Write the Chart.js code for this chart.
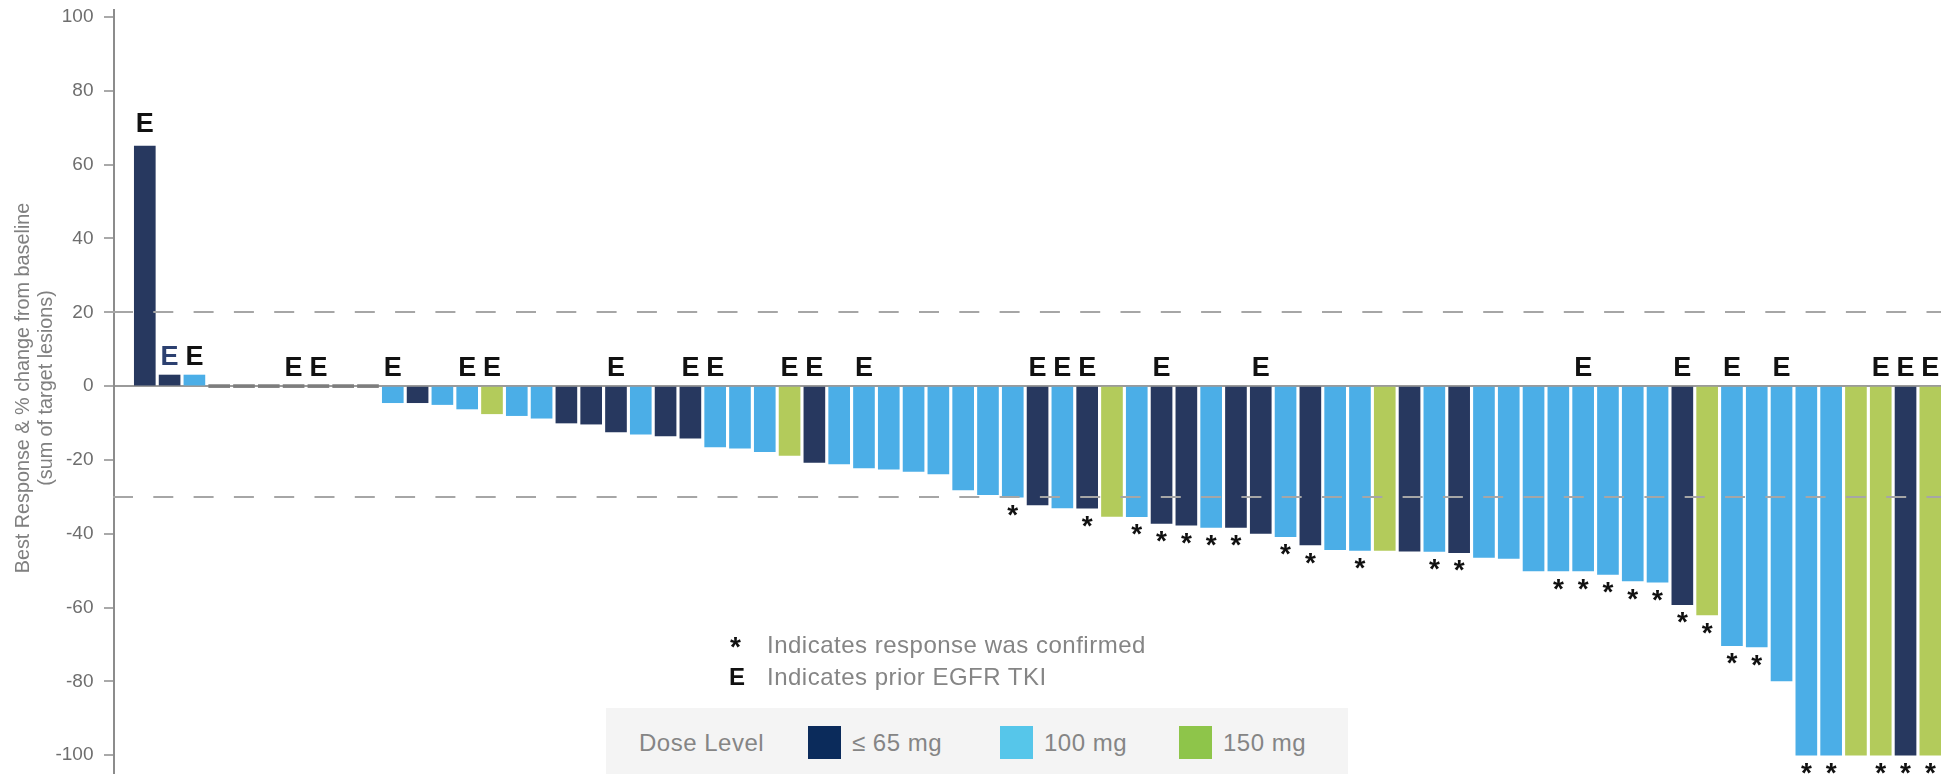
<!DOCTYPE html>
<html>
<head>
<meta charset="utf-8">
<script src="https://cdn.jsdelivr.net/npm/chart.js@4.4.1/dist/chart.umd.min.js"></script>
<style>
  html, body { margin: 0; padding: 0; background: #fff; overflow: hidden; }
  #wrap { position: relative; width: 1941px; height: 774px; }
  #wrap canvas { position: absolute; left: 0; top: 0; }
  .txt { position: absolute; white-space: nowrap; line-height: 1; font-family: "Liberation Sans", Arial, Helvetica, sans-serif; }
  .note { font-size: 24px; color: #858585; letter-spacing: 0.5px; }
  .mark { font-weight: bold; color: #111; }
  #legend { position: absolute; left: 606px; top: 708px; width: 742px; height: 70px; background: #f4f4f4; }
  .swatch { position: absolute; width: 33px; height: 33px; }
</style>
</head>
<body>
<div id="wrap">
  <canvas id="waterfall" width="1941" height="774"></canvas>

  <div class="txt mark" style="left:730px; top:633px; font-size:28px;">*</div>
  <div class="txt note" style="left:767px; top:633px;">Indicates response was confirmed</div>
  <div class="txt mark" style="left:729px; top:665px; font-size:24px;">E</div>
  <div class="txt note" style="left:767px; top:665px;">Indicates prior EGFR TKI</div>

  <div id="legend"></div>
</div>

<script>
// Best % change from baseline in the sum of target lesions, one value per patient
const responses = [
  65, 3, 3, 0, 0, 0, 0, 0, 0, 0,
  -4.5, -4.5, -5, -6.2, -7.5, -8, -8.7, -10, -10.3, -12.4,
  -13, -13.5, -14.1, -16.5, -16.8, -17.8, -18.8, -20.7, -21.1, -22.2,
  -22.5, -23.1, -23.8, -28.1, -29.4, -30.1, -32.2, -33, -33.1, -35.3,
  -35.4, -37.2, -37.7, -38.3, -38.3, -39.9, -40.8, -43, -44.3, -44.5,
  -44.5, -44.7, -44.8, -45.1, -46.4, -46.7, -50.1, -50.1, -50.1, -51,
  -52.8, -53.1, -59.2, -62, -70.3, -70.7, -79.9, -100, -100, -100,
  -100, -100, -100
];

// Dose level of each patient (null: no measurable change, drawn as a grey stub)
const doses = [
  '≤65', '≤65', '100', null, null, null, null, null, null, null,
  '100', '≤65', '100', '100', '150', '100', '100', '≤65', '≤65', '≤65',
  '100', '≤65', '≤65', '100', '100', '100', '150', '≤65', '100', '100',
  '100', '100', '100', '100', '100', '100', '≤65', '100', '≤65', '150',
  '100', '≤65', '≤65', '100', '≤65', '≤65', '100', '≤65', '100', '100',
  '150', '≤65', '100', '≤65', '100', '100', '100', '100', '100', '100',
  '100', '100', '≤65', '150', '100', '100', '100', '100', '100', '150',
  '150', '≤65', '150'
];

// Patient positions (1-based) with prior EGFR TKI, and with a confirmed response
const priorTkiBars = [1, 2, 3, 7, 8, 11, 14, 15, 20, 23, 24, 27, 28, 30, 37, 38, 39, 42, 46, 59, 63, 65, 67, 71, 72, 73];
const confirmedBars = [36, 39, 41, 42, 43, 44, 45, 47, 48, 50, 53, 54, 58, 59, 60, 61, 62, 63, 64, 65, 66, 68, 69, 71, 72, 73];

// Response thresholds (+20% progression, -30% partial response)
const thresholds = [20, -30];

// Dose legend entries
const doseLevels = ['≤65', '100', '150'];
const doseLabels = ['≤ 65 mg', '100 mg', '150 mg'];

// Axis tick values
const yTicks = [-100, -80, -60, -40, -20, 0, 20, 40, 60, 80, 100];

const barColors = { '≤65': '#27385f', '100': '#4baee7', '150': '#b3cb5b' };
const legendColors = { '≤65': '#0b2b5b', '100': '#56c6ea', '150': '#8ec54a' };
const stubColor = '#7d7d7d';
const navyMarkBars = [2];

const font = '"Liberation Sans", Arial, Helvetica, sans-serif';

// HTML legend box
(function buildLegend() {
  const box = document.getElementById('legend');
  const title = document.createElement('div');
  title.className = 'txt note';
  title.style.left = '33px';
  title.style.top = '23px';
  title.textContent = 'Dose Level';
  box.appendChild(title);
  const swatchX = [202, 394, 573];
  doseLevels.forEach((d, i) => {
    const sw = document.createElement('div');
    sw.className = 'swatch';
    sw.style.left = swatchX[i] + 'px';
    sw.style.top = '18px';
    sw.style.background = legendColors[d];
    box.appendChild(sw);
    const lb = document.createElement('div');
    lb.className = 'txt note';
    lb.style.left = (swatchX[i] + 44) + 'px';
    lb.style.top = '23px';
    lb.textContent = doseLabels[i];
    box.appendChild(lb);
  });
})();

const patients = responses.map((_, i) => i + 1);
const points = patients.map((p, i) => ({ x: p, y: responses[i] }));

// Thresholds, prior-TKI marks, confirmation asterisks and the y-axis title
const annotate = {
  id: 'annotate',
  afterDatasetsDraw(chart) {
    const { ctx, chartArea, scales: { x, y } } = chart;

    ctx.save();
    ctx.strokeStyle = '#a6a6a6';
    ctx.lineWidth = 2;
    ctx.setLineDash([20, 20.3]);
    thresholds.forEach(t => {
      const py = Math.round(y.getPixelForValue(t));
      ctx.beginPath();
      ctx.moveTo(chartArea.left - 1, py);
      ctx.lineTo(chartArea.right, py);
      ctx.stroke();
    });
    ctx.restore();

    ctx.save();
    ctx.font = 'bold 27px ' + font;
    ctx.textAlign = 'center';
    ctx.textBaseline = 'alphabetic';
    priorTkiBars.forEach(n => {
      const v = responses[n - 1];
      const px = x.getPixelForValue(n);
      const top = y.getPixelForValue(Math.max(v, 0));
      ctx.fillStyle = navyMarkBars.includes(n) ? '#2c4070' : '#111';
      ctx.fillText('E', px, top - (v > 10 ? 14 : 10));
    });

    ctx.font = 'bold 28px ' + font;
    ctx.textBaseline = 'top';
    ctx.fillStyle = '#111';
    confirmedBars.forEach(n => {
      const v = responses[n - 1];
      const px = x.getPixelForValue(n);
      const bottom = y.getPixelForValue(Math.min(v, 0));
      ctx.fillText('*', px, bottom + 5);
    });
    ctx.restore();

    const cy = (chartArea.top + chartArea.bottom) / 2 - 4;
    ctx.save();
    ctx.font = '19.8px ' + font;
    ctx.fillStyle = '#808080';
    ctx.textAlign = 'center';
    ctx.textBaseline = 'alphabetic';
    [['Best Response & % change from baseline', 29], ['(sum of target lesions)', 52]].forEach(([t, bx]) => {
      ctx.save();
      ctx.translate(bx, cy);
      ctx.rotate(-Math.PI / 2);
      ctx.fillText(t, 0, 0);
      ctx.restore();
    });
    ctx.restore();
  }
};

new Chart(document.getElementById('waterfall'), {
  type: 'bar',
  data: {
    datasets: [{
      data: points,
      backgroundColor: doses.map(d => d ? barColors[d] : stubColor),
      borderWidth: 0,
      barThickness: 21,
      minBarLength: 3
    }]
  },
  options: {
    responsive: false,
    animation: false,
    layout: { padding: { top: 10, right: 0, bottom: 0, left: 0 } },
    plugins: { legend: { display: false }, tooltip: { enabled: false } },
    scales: {
      x: {
        type: 'linear',
        display: false,
        offset: false,
        min: -0.242,
        max: 73.43
      },
      y: {
        min: -105.1,
        max: 101.9,
        afterFit(scale) {
          scale.width = 114;
          scale.paddingTop = 0;
          scale.paddingBottom = 0;
        },
        afterBuildTicks(scale) { scale.ticks = yTicks.map(v => ({ value: v })); },
        ticks: {
          padding: 10.5,
          color: '#6e6e6e',
          font: { family: font, size: 19 }
        },
        grid: {
          drawOnChartArea: true,
          color: c => (c.tick && c.tick.value === 0 ? '#9a9a9a' : 'rgba(0,0,0,0)'),
          lineWidth: 2,
          tickColor: '#8c8c8c',
          tickLength: 10,
          tickWidth: 1.5
        },
        border: { color: '#8c8c8c', width: 2 }
      }
    }
  },
  plugins: [annotate]
});
</script>
</body>
</html>
